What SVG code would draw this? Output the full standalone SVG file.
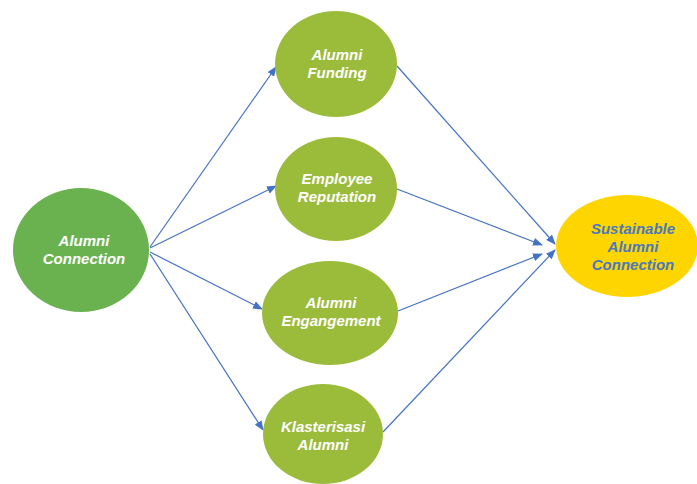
<svg xmlns="http://www.w3.org/2000/svg" width="697" height="484" viewBox="0 0 697 484">
<defs>
<marker id="ah" markerWidth="10" markerHeight="8" refX="9" refY="4" orient="auto" markerUnits="userSpaceOnUse">
<path d="M0,0 L10,4 L0,8 Z" fill="#4472c4"/>
</marker>
<style>
.g{fill:#9bbb3b}
.t{font-family:"Liberation Sans",Arial,sans-serif;font-size:15px;font-weight:bold;font-style:italic;fill:#ffffff;text-anchor:middle}
.b{fill:#4a78c0}
.c{stroke:#4472c4;stroke-width:1.2;fill:none;marker-end:url(#ah)}
</style>
</defs>
<rect width="697" height="484" fill="#ffffff"/>
<g id="connectors">
<line class="c" x1="150" y1="247" x2="276" y2="67"/>
<line class="c" x1="150" y1="248" x2="276" y2="186"/>
<line class="c" x1="150" y1="252" x2="262" y2="309"/>
<line class="c" x1="150" y1="254" x2="263" y2="430"/>
<line class="c" x1="397" y1="66" x2="555" y2="244"/>
<line class="c" x1="397" y1="189" x2="542" y2="245"/>
<line class="c" x1="398" y1="311" x2="542" y2="254"/>
<line class="c" x1="383" y1="432" x2="555" y2="250"/>
</g>
<g id="alumni-connection">
<ellipse cx="81" cy="250" rx="68" ry="62" fill="#6ab24f"/>
<text class="t" x="84" y="246">Alumni</text>
<text class="t" x="84" y="264">Connection</text>
</g>
<g id="alumni-funding">
<ellipse class="g" cx="336" cy="64" rx="61" ry="53"/>
<text class="t" x="337" y="60">Alumni</text>
<text class="t" x="337" y="78">Funding</text>
</g>
<g id="employee-reputation">
<ellipse class="g" cx="336" cy="189" rx="61" ry="52"/>
<text class="t" x="337" y="184">Employee</text>
<text class="t" x="337" y="202">Reputation</text>
</g>
<g id="alumni-engangement">
<ellipse class="g" cx="330" cy="313" rx="68" ry="52"/>
<text class="t" x="331" y="308">Alumni</text>
<text class="t" x="331" y="326">Engangement</text>
</g>
<g id="klasterisasi-alumni">
<ellipse class="g" cx="323" cy="434" rx="60" ry="50"/>
<text class="t" x="323" y="432">Klasterisasi</text>
<text class="t" x="323" y="450">Alumni</text>
</g>
<g id="sustainable-alumni-connection">
<ellipse cx="627" cy="246" rx="71" ry="51" fill="#ffd500"/>
<text class="t b" x="633" y="234">Sustainable</text>
<text class="t b" x="633" y="252">Alumni</text>
<text class="t b" x="633" y="270">Connection</text>
</g>
</svg>
